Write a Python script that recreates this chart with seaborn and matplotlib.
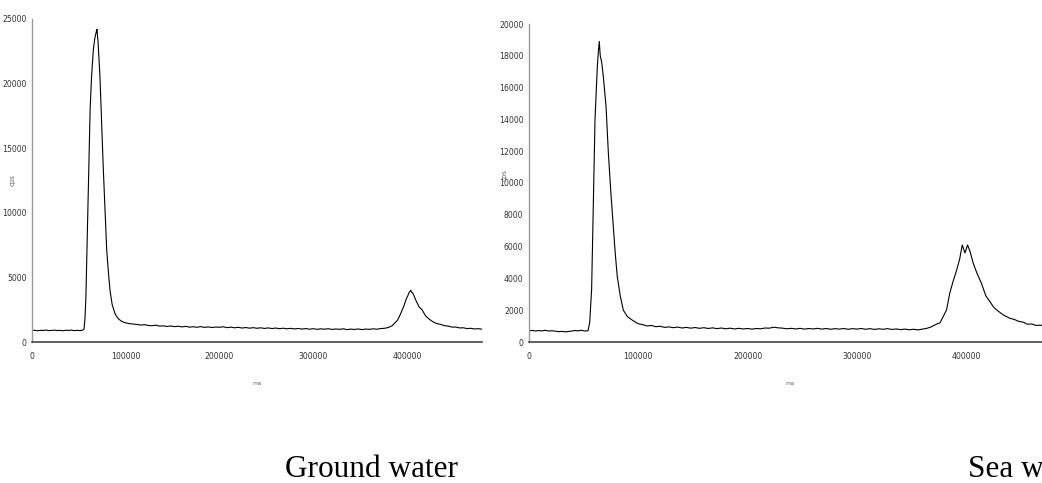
import matplotlib
matplotlib.use("Agg")
import matplotlib.pyplot as plt
from matplotlib.ticker import MultipleLocator, FuncFormatter
import seaborn as sns
import pandas as pd

# ---------------- data (in thousands of ms / cps) ----------------
# Ground water
gw_base_ms_k = [0, 3, 6, 9, 12, 15, 18, 21, 24, 27, 30, 33, 36, 39, 42, 45, 48, 51, 54]
gw_base_cps = [880, 910, 870, 905, 890, 925, 880, 900, 915, 885, 905, 870, 910, 895, 920, 880, 900, 890, 910]
gw_peak1_ms_k = [55.5, 56.5, 57.5, 59, 60.5, 62, 63.5, 65.4, 67, 68.5, 69.3, 70.5, 72.5, 74, 76, 78,
                 79.7, 81.5, 83.2, 85.5, 88.5, 92, 96]
gw_peak1_cps = [1000, 1800, 3500, 8400, 13000, 18000, 20500, 22600, 23500, 24000, 24200, 23200, 20500, 17500,
                13500, 10000, 7100, 5400, 4000, 2900, 2200, 1800, 1580]
gw_mid_ms_k = [100, 104, 108, 112, 116, 120, 124, 128, 132, 136, 140, 144, 148, 152, 156, 160, 164, 168,
               172, 176, 180, 184, 188, 192, 196, 200, 204, 208, 212, 216, 220, 224, 228, 232, 236, 240,
               244, 248, 252, 256, 260, 264, 268, 272, 276, 280, 284, 288, 292, 296, 300, 304, 308, 312,
               316, 320, 324, 328, 332, 336, 340, 344, 348, 352, 356, 360, 364, 368, 372, 376]
gw_mid_cps = [1480, 1420, 1390, 1360, 1310, 1340, 1280, 1260, 1300, 1230, 1250, 1200, 1240, 1190, 1220,
              1170, 1210, 1150, 1180, 1140, 1190, 1130, 1170, 1120, 1160, 1140, 1180, 1110, 1150, 1100,
              1140, 1080, 1120, 1070, 1110, 1060, 1100, 1050, 1090, 1040, 1080, 1030, 1070, 1020, 1060,
              1010, 1050, 1000, 1040, 990, 1030, 980, 1020, 990, 1030, 970, 1010, 980, 1020, 960, 1000,
              970, 1010, 960, 1000, 980, 1020, 990, 1040, 1060]
gw_peak2_ms_k = [380, 384, 387, 390, 393, 395, 397, 399, 401, 402, 403, 404, 405, 406, 408, 409, 411, 413,
                 416, 418, 420, 422, 424, 428, 432, 436, 440, 444, 448, 452, 456, 460, 464, 468, 472,
                 476, 480]
gw_peak2_cps = [1120, 1250, 1480, 1700, 2150, 2500, 2850, 3300, 3600, 3800, 3900, 4000, 3850, 3800, 3500,
                3300, 3000, 2700, 2500, 2250, 2000, 1880, 1750, 1550, 1420, 1360, 1260, 1230, 1150,
                1160, 1090, 1100, 1040, 1060, 1010, 1030, 990]

# Sea water
sw_base_ms_k = [0, 3, 6, 9, 12, 15, 18, 21, 24, 27, 30, 33, 36, 39, 42, 45, 48, 51, 54]
sw_base_cps = [700, 730, 690, 720, 700, 740, 690, 710, 680, 650, 670, 640, 660, 690, 720, 700, 740, 690, 710]
sw_peak1_ms_k = [55.5, 57.3, 59, 60.4, 62.5, 63.5, 64.3, 65.2, 66.5, 68, 70.5, 72.6, 75, 77.2, 79, 80.8,
                 83.5, 86.3, 90, 94, 98.5, 101]
sw_peak1_cps = [1200, 3300, 9000, 14000, 17300, 18300, 18900, 18000, 17600, 16700, 14800, 11900, 9300,
                7250, 5500, 4100, 2900, 2000, 1600, 1400, 1200, 1130]
sw_mid_ms_k = [104, 108, 112, 116, 120, 124, 128, 132, 136, 140, 144, 148, 152, 156, 160, 164, 168, 172,
               176, 180, 184, 188, 192, 196, 200, 204, 208, 212, 216, 220, 224, 228, 232, 236, 240, 244,
               248, 252, 256, 260, 264, 268, 272, 276, 280, 284, 288, 292, 296, 300, 304, 308, 312, 316,
               320, 324, 328, 332, 336, 340, 344, 348, 352, 356, 360]
sw_mid_cps = [1090, 1010, 1040, 960, 990, 920, 950, 900, 940, 880, 920, 870, 910, 860, 900, 850, 890, 840,
              880, 830, 870, 820, 860, 820, 850, 810, 850, 830, 880, 870, 930, 890, 870, 830, 860, 820,
              860, 810, 850, 820, 860, 810, 850, 800, 840, 810, 850, 800, 840, 810, 850, 800, 840, 790,
              830, 800, 840, 790, 820, 780, 810, 770, 800, 760, 810]
sw_peak2_ms_k = [364, 368, 373, 376, 379, 382, 385, 388, 391.3, 394, 396.4, 398.9, 401.3, 403.5, 406.5,
                 410, 414, 418, 421.8, 425, 428, 434, 440, 444, 448, 452, 456, 460, 464, 468, 472, 476, 480]
sw_peak2_cps = [860, 950, 1130, 1200, 1600, 2010, 3080, 3800, 4530, 5200, 6100, 5600, 6100, 5700, 4950,
                4300, 3690, 2900, 2530, 2200, 2010, 1700, 1490, 1420, 1300, 1250, 1120, 1130, 1040, 1060,
                990, 1010, 960]

captions = ["Ground water", "Sea water"]
gw_yticks_step, gw_ymax = 5000, 25000
sw_yticks_step, sw_ymax = 2000, 20000
x_max = 480000

gw_ms_k = gw_base_ms_k + gw_peak1_ms_k + gw_mid_ms_k + gw_peak2_ms_k
gw_cps = gw_base_cps + gw_peak1_cps + gw_mid_cps + gw_peak2_cps
sw_ms_k = sw_base_ms_k + sw_peak1_ms_k + sw_mid_ms_k + sw_peak2_ms_k
sw_cps = sw_base_cps + sw_peak1_cps + sw_mid_cps + sw_peak2_cps

gw = pd.DataFrame({"ms": [v * 1000 for v in gw_ms_k], "cps": gw_cps})
sw = pd.DataFrame({"ms": [v * 1000 for v in sw_ms_k], "cps": sw_cps})

# ---------------- figure ----------------
sns.set_style("white")
plt.rcParams["font.family"] = ["DejaVu Sans"]

W, H = 1042, 483
fig = plt.figure(figsize=(W / 100, H / 100), dpi=100)

def px_axes(x0, y_top, x1, y_bottom):
    return fig.add_axes([x0 / W, (H - y_bottom) / H, (x1 - x0) / W, (y_bottom - y_top) / H])

ax1 = px_axes(32, 19, 482, 342)
ax2 = px_axes(529, 24, 529 + 524.6, 342)

tick_font = 5.6
for ax, df, step, ymax in [(ax1, gw, gw_yticks_step, gw_ymax), (ax2, sw, sw_yticks_step, sw_ymax)]:
    sns.lineplot(data=df, x="ms", y="cps", ax=ax, color="black", linewidth=0.8, sort=False)
    ax.set_xlim(0, x_max)
    ax.set_ylim(0, ymax)
    ax.xaxis.set_major_locator(MultipleLocator(100000))
    ax.xaxis.set_minor_locator(MultipleLocator(50000))
    ax.yaxis.set_major_locator(MultipleLocator(step))
    ax.yaxis.set_minor_locator(MultipleLocator(step / 2))
    fmt = FuncFormatter(lambda v, p: f"{int(round(v))}")
    ax.xaxis.set_major_formatter(fmt)
    ax.yaxis.set_major_formatter(fmt)
    for s in ["top", "right"]:
        ax.spines[s].set_visible(False)
    ax.spines["left"].set_color("#9a9a9a")
    ax.spines["left"].set_linewidth(1.0)
    ax.spines["bottom"].set_color("#444444")
    ax.spines["bottom"].set_linewidth(1.2)
    ax.tick_params(axis="y", which="both", direction="out", length=3, width=0.9,
                   colors="#333333", labelsize=tick_font, pad=1)
    ax.tick_params(axis="x", which="both", direction="inout", length=5, width=0.9,
                   colors="#333333", labelsize=tick_font, pad=5)
    ax.set_ylabel("cps", fontsize=5, color="#666666")
    ax.set_xlabel("ms", fontsize=4.5, color="#666666")
    ax.patch.set_alpha(0)

ax1.yaxis.set_label_coords(-0.036, 0.50)
ax2.yaxis.set_label_coords(-0.040, 0.525)
ax1.xaxis.set_label_coords(0.50, -0.12)
ax2.xaxis.set_label_coords((790 - 529) / 524.6, -0.123)

fig.text(372 / W, (H - 477) / H, captions[0], ha="center", va="baseline",
         fontsize=22.5, family="Liberation Serif", color="black")
fig.text(968 / W, (H - 477) / H, captions[1], ha="left", va="baseline",
         fontsize=22.5, family="Liberation Serif", color="black")

fig.savefig("out.png", dpi=100)
